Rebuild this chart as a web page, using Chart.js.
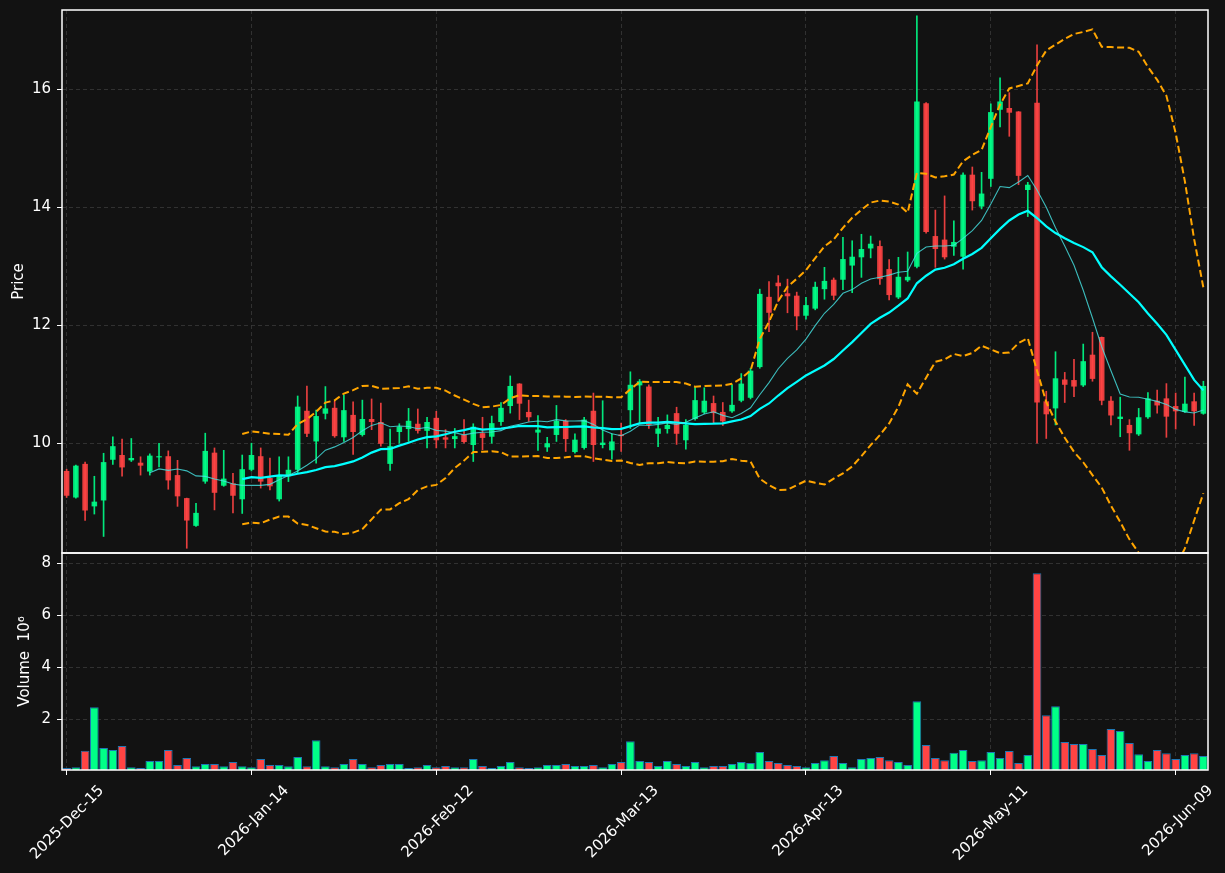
<!DOCTYPE html>
<html lang="en">
<head>
<meta charset="UTF-8">
<title>Price / Volume</title>
<script src="https://cdn.jsdelivr.net/npm/chart.js"></script>
<style>
  html, body { margin: 0; padding: 0; background: #121212; }
  #wrap { width: 1225px; height: 873px; }
</style>
</head>
<body>
<div id="wrap"><canvas id="candleChart" width="1225" height="873"></canvas></div>
<script>
// --- data (prices, volume in millions) ---
const firstDay = '2025-12-15';
const holidays = ['2025-12-25', '2026-01-01', '2026-01-19', '2026-02-16', '2026-04-03', '2026-05-25'];
const tickEvery = 20;

const opens = [9.53,9.08,9.65,8.93,9.03,9.72,9.80,9.71,9.67,9.52,9.76,9.78,9.46,9.07,8.60,9.35,9.84,9.28,9.32,9.05,
  9.55,9.78,9.41,9.05,9.44,9.55,10.55,10.03,10.50,10.60,10.10,10.48,10.14,10.41,10.36,9.65,10.19,10.24,10.33,10.21,
  10.43,10.10,10.07,10.14,9.97,10.17,10.11,10.36,10.63,11.01,10.53,10.18,9.93,10.14,10.38,9.85,9.92,10.55,9.97,9.88,
  10.15,10.56,10.98,10.96,10.16,10.24,10.51,10.05,10.41,10.52,10.68,10.53,10.54,10.72,10.77,11.29,12.48,12.72,12.54,12.50,
  12.16,12.28,12.61,12.77,12.77,13.01,13.15,13.30,13.34,12.95,12.47,12.76,12.99,15.76,13.51,13.45,13.33,13.16,14.55,14.01,
  14.48,15.65,15.68,15.62,14.29,15.77,10.71,10.59,11.08,11.07,10.98,11.50,11.80,10.72,10.41,10.31,10.15,10.44,10.72,10.76,
  10.63,10.53,10.71,10.50];
const highs = [9.56,9.63,9.68,9.44,9.83,10.11,10.07,10.08,9.77,9.82,10.00,9.87,9.71,9.07,8.98,10.17,9.92,9.88,9.49,9.80,
  10.00,9.92,9.75,9.77,9.77,10.80,10.97,10.56,10.96,10.71,10.82,10.70,10.73,10.75,10.68,10.24,10.33,10.59,10.58,10.44,
  10.54,10.23,10.25,10.40,10.33,10.44,10.46,10.69,11.14,11.01,10.73,10.47,10.10,10.64,10.40,10.16,10.44,10.85,10.72,10.16,
  10.34,11.21,11.08,10.99,10.44,10.48,10.61,10.40,10.96,10.94,10.80,10.69,10.99,11.18,11.27,12.61,12.74,12.84,12.78,12.56,
  12.47,12.73,12.98,12.80,13.49,13.43,13.54,13.51,13.43,13.11,13.15,13.24,17.24,15.77,13.95,14.19,13.77,14.58,14.68,14.59,
  15.75,16.19,15.94,15.62,14.42,16.75,10.88,11.55,11.20,11.42,11.68,11.88,11.80,10.79,10.78,10.40,10.59,10.86,10.90,11.01,
  10.85,11.12,10.85,11.05];
const lows = [9.08,9.07,8.69,8.80,8.42,9.64,9.44,9.69,9.46,9.46,9.60,9.22,8.93,8.22,8.59,9.32,8.87,9.27,8.82,8.81,
  9.53,9.24,9.21,9.02,9.35,9.50,10.11,9.66,10.41,10.10,10.03,9.81,10.12,10.23,9.95,9.54,10.00,10.03,10.17,9.92,
  9.92,9.92,9.92,10.00,9.69,9.89,10.00,10.30,10.51,10.40,10.37,9.88,9.86,10.03,9.86,9.83,9.90,9.69,9.92,9.73,
  9.86,10.25,10.34,10.25,9.94,10.17,9.98,9.90,10.39,10.50,10.34,10.30,10.52,10.70,10.75,11.27,11.89,12.40,12.21,11.92,
  12.10,12.26,12.44,12.43,12.60,12.55,12.81,13.14,12.69,12.43,12.45,12.74,12.97,13.56,12.98,13.12,13.18,12.95,13.95,13.97,
  14.35,15.36,15.20,14.38,13.84,10.00,10.08,10.31,10.69,10.79,10.96,11.05,10.65,10.31,10.11,9.88,10.13,10.42,10.51,10.10,
  10.24,10.52,10.30,10.49];
const closes = [9.11,9.62,8.86,9.01,9.68,9.95,9.59,9.75,9.62,9.79,9.78,9.37,9.10,8.69,8.82,9.87,9.16,9.40,9.11,9.56,
  9.80,9.35,9.27,9.46,9.55,10.62,10.16,10.46,10.59,10.12,10.56,10.19,10.41,10.36,9.99,9.95,10.28,10.38,10.21,10.36,
  10.05,10.06,10.12,10.02,10.28,10.09,10.34,10.60,10.97,10.67,10.44,10.23,10.00,10.38,10.07,10.06,10.40,9.97,10.01,10.03,
  10.12,10.99,11.05,10.31,10.25,10.31,10.16,10.31,10.73,10.72,10.51,10.37,10.65,11.01,11.23,12.53,12.21,12.66,12.49,12.15,
  12.34,12.65,12.75,12.50,13.12,13.16,13.29,13.38,12.78,12.51,12.82,12.82,15.79,13.58,13.29,13.15,13.41,14.55,14.10,14.23,
  15.61,15.79,15.60,14.53,14.38,10.69,10.49,11.10,10.99,10.96,11.39,11.09,10.72,10.47,10.45,10.17,10.44,10.76,10.64,10.45,
  10.54,10.67,10.54,10.97];
const volumes = [0.115,0.15,0.78,2.46,0.885,0.81,0.96,0.15,0.115,0.385,0.385,0.81,0.23,0.5,0.18,0.27,0.27,0.18,0.35,0.18,
  0.15,0.46,0.23,0.23,0.18,0.54,0.18,1.19,0.18,0.15,0.27,0.46,0.27,0.15,0.23,0.27,0.27,0.115,0.15,0.23,
  0.15,0.19,0.15,0.15,0.46,0.19,0.115,0.19,0.35,0.15,0.115,0.15,0.23,0.23,0.27,0.19,0.19,0.23,0.15,0.27,
  0.35,1.15,0.385,0.35,0.19,0.385,0.27,0.19,0.35,0.15,0.19,0.19,0.27,0.35,0.31,0.73,0.385,0.31,0.23,0.19,
  0.15,0.31,0.42,0.58,0.31,0.15,0.46,0.50,0.54,0.42,0.35,0.23,2.69,1.0,0.50,0.42,0.705,0.81,0.385,0.42,
  0.73,0.5,0.77,0.31,0.615,7.62,2.15,2.5,1.115,1.04,1.04,0.85,0.615,1.62,1.54,1.08,0.65,0.385,0.81,0.69,
  0.46,0.615,0.69,0.58];

const priceTicks = [10, 12, 14, 16];
const volumeTicks = [2, 4, 6, 8];

const UP = '#00ff88', DOWN = '#ff4444';
const UP_CANDLE = 'rgba(0,255,136,0.9)', DOWN_CANDLE = 'rgba(255,68,68,0.9)';
const FONT = { family: 'DejaVu Sans', size: 15 };

// trading-day labels like 2025-Dec-15
const MONTHS = ['Jan','Feb','Mar','Apr','May','Jun','Jul','Aug','Sep','Oct','Nov','Dec'];
function tradingDays(start, count) {
  const out = [];
  const d = new Date(start + 'T00:00:00Z');
  while (out.length < count) {
    const iso = d.toISOString().slice(0, 10);
    const wd = d.getUTCDay();
    if (wd !== 0 && wd !== 6 && !holidays.includes(iso)) {
      out.push(d.getUTCFullYear() + '-' + MONTHS[d.getUTCMonth()] + '-' + String(d.getUTCDate()).padStart(2, '0'));
    }
    d.setUTCDate(d.getUTCDate() + 1);
  }
  return out;
}
const categories = tradingDays(firstDay, closes.length);

// moving averages and 20-day bands, computed from the closes
function rollingMean(arr, n) {
  return arr.map((_, i) => i < n - 1 ? null : arr.slice(i - n + 1, i + 1).reduce((a, b) => a + b, 0) / n);
}
function rollingStd(arr, n) {
  return arr.map((_, i) => {
    if (i < n - 1) return null;
    const w = arr.slice(i - n + 1, i + 1);
    const m = w.reduce((a, b) => a + b, 0) / n;
    return Math.sqrt(w.reduce((a, b) => a + (b - m) * (b - m), 0) / (n - 1));
  });
}
const ma10 = rollingMean(closes, 10);
const ma20 = rollingMean(closes, 20);
const sd20 = rollingStd(closes, 20);
const bbUpper = ma20.map((m, i) => m === null ? null : m + 2 * sd20[i]);
const bbLower = ma20.map((m, i) => m === null ? null : m - 2 * sd20[i]);

const isUp = closes.map((c, i) => c >= opens[i]);
const candleColors = isUp.map(u => u ? UP_CANDLE : DOWN_CANDLE);
const volColors = isUp.map(u => u ? UP : DOWN);

// white box round each panel
const panelFrame = {
  id: 'panelFrame',
  afterDatasetsDraw(chart) {
    const { ctx, scales } = chart;
    const x = scales.x;
    ctx.save();
    ctx.strokeStyle = '#ffffff';
    ctx.lineWidth = 1.5;
    [scales.y, scales.yVol].forEach(s => {
      ctx.strokeRect(x.left, s.top, x.right - x.left, s.bottom - s.top);
    });
    ctx.restore();
  }
};

// fixed axis sizes, no extra label padding
function fixSize(w, h) {
  return (scale) => {
    if (w !== null) scale.width = w;
    if (h !== null) scale.height = h;
    scale.paddingLeft = scale.paddingRight = scale.paddingTop = scale.paddingBottom = 0;
  };
}

const gridCfg = {
  color: '#3a3a3a',
  lineWidth: 0.8,
  tickColor: '#ffffff',
  tickLength: 5,
  tickWidth: 1
};

new Chart(document.getElementById('candleChart'), {
  data: {
    labels: categories,
    datasets: [
      { type: 'line', label: 'MA10', data: ma10, yAxisID: 'y', borderColor: 'rgba(70,230,230,0.8)',
        borderWidth: 1.1, pointRadius: 0, tension: 0, order: 0 },
      { type: 'line', label: 'MA20', data: ma20, yAxisID: 'y', borderColor: '#00ffff',
        borderWidth: 2.2, pointRadius: 0, tension: 0, order: 0 },
      { type: 'line', label: 'Upper band', data: bbUpper, yAxisID: 'y', borderColor: '#ffa500',
        borderWidth: 2, borderDash: [7, 3.5], pointRadius: 0, tension: 0, order: 0 },
      { type: 'line', label: 'Lower band', data: bbLower, yAxisID: 'y', borderColor: '#ffa500',
        borderWidth: 2, borderDash: [7, 3.5], pointRadius: 0, tension: 0, order: 0 },
      { type: 'bar', label: 'High-Low', data: lows.map((l, i) => [l, highs[i]]), yAxisID: 'y',
        backgroundColor: candleColors, barThickness: 1, grouped: false, order: 2 },
      { type: 'bar', label: 'Open-Close', data: opens.map((o, i) => [o, closes[i]]), yAxisID: 'y',
        backgroundColor: candleColors, barPercentage: 0.6, categoryPercentage: 1, grouped: false, order: 1 },
      { type: 'bar', label: 'Volume', data: volumes, yAxisID: 'yVol',
        backgroundColor: volColors, borderColor: '#1f77b4', borderWidth: 1,
        barPercentage: 0.94, categoryPercentage: 1, grouped: false, order: 1 }
    ]
  },
  options: {
    responsive: false,
    animation: false,
    devicePixelRatio: 1,
    layout: { padding: { left: 0, right: 17, top: 10, bottom: 0 } },
    plugins: { legend: { display: false }, tooltip: { enabled: true } },
    scales: {
      x: {
        type: 'category',
        offset: true,
        grid: { ...gridCfg, offset: false },
        border: { display: false, dash: [4, 3] },
        afterBuildTicks: (axis) => {
          axis.ticks = categories.map((_, i) => i).filter(i => i % tickEvery === 0).map(i => ({ value: i }));
        },
        afterFit: fixSize(null, 103),
        ticks: {
          autoSkip: false,
          minRotation: 45,
          maxRotation: 45,
          labelOffset: 35,
          padding: 7,
          color: '#ffffff',
          font: FONT,
          callback: (v) => categories[v]
        }
      },
      y: {
        type: 'linear',
        position: 'left',
        stack: 'panels',
        stackWeight: 543,
        weight: 1,
        min: 8.14,
        max: 17.34,
        grid: gridCfg,
        border: { display: false, dash: [4, 3] },
        afterBuildTicks: (axis) => { axis.ticks = priceTicks.map(v => ({ value: v })); },
        afterFit: fixSize(62, null),
        ticks: { color: '#ffffff', padding: 6, font: FONT },
        title: { display: true, text: 'Price', color: '#ffffff', padding: { top: 10, bottom: 0 }, font: FONT }
      },
      yVol: {
        type: 'linear',
        position: 'left',
        stack: 'panels',
        stackWeight: 217,
        weight: 0,
        min: 0.04,
        max: 8.40,
        grid: gridCfg,
        border: { display: false, dash: [4, 3] },
        afterBuildTicks: (axis) => { axis.ticks = volumeTicks.map(v => ({ value: v })); },
        afterFit: fixSize(62, null),
        ticks: { color: '#ffffff', padding: 6, font: FONT },
        title: { display: true, text: 'Volume  10\u2076', color: '#ffffff', padding: { top: 16, bottom: 0 }, font: FONT }
      }
    }
  },
  plugins: [panelFrame]
});
</script>
</body>
</html>
